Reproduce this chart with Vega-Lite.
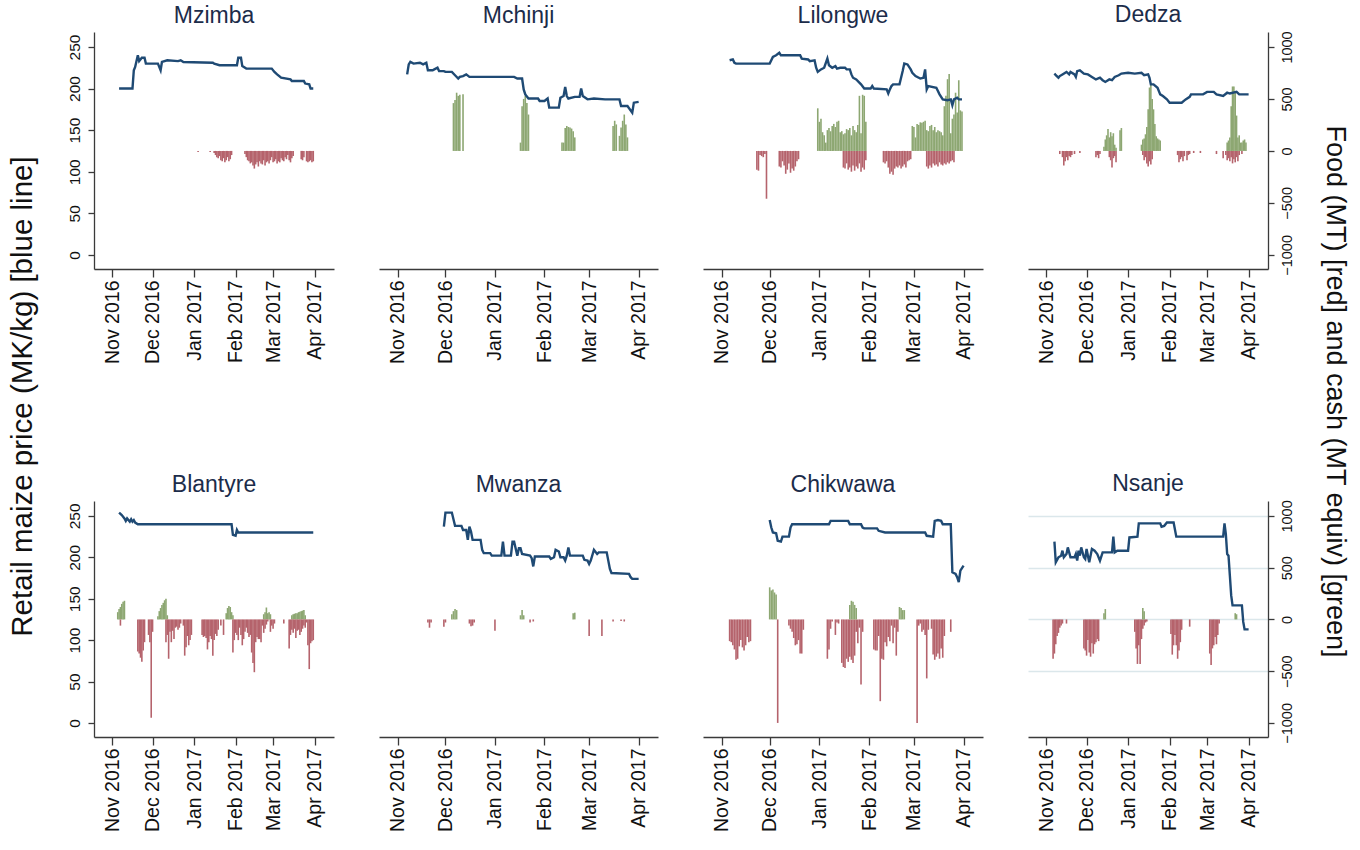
{
"$schema": "https://vega.github.io/schema/vega-lite/v6.json",
"padding": {"left": 6, "top": 3, "right": 5, "bottom": 5},
"bounds": "flush",
"align": "each",
"columns": 4,
"spacing": {"row": 232, "column": 45},
"config": {
  "view": {"stroke": null},
  "font": "Liberation Sans",
  "axis": {"domainColor": "#3a3a3a", "tickColor": "#3a3a3a", "domainWidth": 1.3, "tickWidth": 1.3, "labelColor": "#111111", "gridColor": "#dbe7eb", "gridWidth": 1.5, "titleColor": "#111111", "titleFontWeight": "normal"},
  "title": {"fontSize": 23, "fontWeight": "normal", "color": "#1c2c4a", "anchor": "middle", "baseline": "alphabetic", "frame": "group", "offset": 4},
  "line": {"color": "#1f4a74", "strokeWidth": 2.4},
  "bar": {"width": 1.6}
},
"datasets": {"m": [
{"d":"Mzimba","t":"2016-11-06","p":200},{"d":"Mzimba","t":"2016-11-16","p":200},{"d":"Mzimba","t":"2016-11-17","p":222},{"d":"Mzimba","t":"2016-11-18","p":226},{"d":"Mzimba","t":"2016-11-20","p":240},{"d":"Mzimba","t":"2016-11-21","p":233},{"d":"Mzimba","t":"2016-11-23","p":237},{"d":"Mzimba","t":"2016-11-25","p":237},{"d":"Mzimba","t":"2016-11-26","p":230},{"d":"Mzimba","t":"2016-12-05","p":230},{"d":"Mzimba","t":"2016-12-07","p":222},{"d":"Mzimba","t":"2016-12-08","p":232},{"d":"Mzimba","t":"2016-12-12","p":234},{"d":"Mzimba","t":"2016-12-20","p":233},{"d":"Mzimba","t":"2016-12-22","p":234},{"d":"Mzimba","t":"2016-12-24","p":232},{"d":"Mzimba","t":"2017-01-15","p":231},{"d":"Mzimba","t":"2017-01-16","p":230},{"d":"Mzimba","t":"2017-01-20","p":228},{"d":"Mzimba","t":"2017-02-02","p":228},{"d":"Mzimba","t":"2017-02-03","p":237},{"d":"Mzimba","t":"2017-02-05","p":237},{"d":"Mzimba","t":"2017-02-06","p":227},{"d":"Mzimba","t":"2017-02-09","p":224},{"d":"Mzimba","t":"2017-02-28","p":224},{"d":"Mzimba","t":"2017-03-02","p":220},{"d":"Mzimba","t":"2017-03-04","p":217},{"d":"Mzimba","t":"2017-03-07","p":213},{"d":"Mzimba","t":"2017-03-14","p":211},{"d":"Mzimba","t":"2017-03-15","p":209},{"d":"Mzimba","t":"2017-03-24","p":209},{"d":"Mzimba","t":"2017-03-25","p":206},{"d":"Mzimba","t":"2017-03-28","p":205},{"d":"Mzimba","t":"2017-03-29","p":200},{"d":"Mzimba","t":"2017-03-31","p":200},
{"d":"Mzimba","t":"2017-01-04","v":-10},{"d":"Mzimba","t":"2017-01-13","v":-10},{"d":"Mzimba","t":"2017-01-16","v":-20},{"d":"Mzimba","t":"2017-01-17","v":-40},{"d":"Mzimba","t":"2017-01-18","v":-60},{"d":"Mzimba","t":"2017-01-19","v":-70},{"d":"Mzimba","t":"2017-01-20","v":-50},{"d":"Mzimba","t":"2017-01-21","v":-90},{"d":"Mzimba","t":"2017-01-22","v":-100},{"d":"Mzimba","t":"2017-01-23","v":-70},{"d":"Mzimba","t":"2017-01-24","v":-110},{"d":"Mzimba","t":"2017-01-25","v":-90},{"d":"Mzimba","t":"2017-01-26","v":-60},{"d":"Mzimba","t":"2017-01-27","v":-100},{"d":"Mzimba","t":"2017-01-28","v":-80},{"d":"Mzimba","t":"2017-01-29","v":-40},{"d":"Mzimba","t":"2017-02-08","v":-30},{"d":"Mzimba","t":"2017-02-09","v":-60},{"d":"Mzimba","t":"2017-02-10","v":-90},{"d":"Mzimba","t":"2017-02-11","v":-100},{"d":"Mzimba","t":"2017-02-12","v":-120},{"d":"Mzimba","t":"2017-02-13","v":-110},{"d":"Mzimba","t":"2017-02-14","v":-140},{"d":"Mzimba","t":"2017-02-15","v":-170},{"d":"Mzimba","t":"2017-02-16","v":-130},{"d":"Mzimba","t":"2017-02-17","v":-110},{"d":"Mzimba","t":"2017-02-18","v":-150},{"d":"Mzimba","t":"2017-02-19","v":-100},{"d":"Mzimba","t":"2017-02-20","v":-120},{"d":"Mzimba","t":"2017-02-21","v":-130},{"d":"Mzimba","t":"2017-02-22","v":-90},{"d":"Mzimba","t":"2017-02-23","v":-140},{"d":"Mzimba","t":"2017-02-24","v":-110},{"d":"Mzimba","t":"2017-02-25","v":-100},{"d":"Mzimba","t":"2017-02-26","v":-120},{"d":"Mzimba","t":"2017-02-27","v":-90},{"d":"Mzimba","t":"2017-02-28","v":-60},{"d":"Mzimba","t":"2017-03-01","v":-110},{"d":"Mzimba","t":"2017-03-02","v":-100},{"d":"Mzimba","t":"2017-03-03","v":-80},{"d":"Mzimba","t":"2017-03-04","v":-120},{"d":"Mzimba","t":"2017-03-05","v":-100},{"d":"Mzimba","t":"2017-03-06","v":-110},{"d":"Mzimba","t":"2017-03-07","v":-70},{"d":"Mzimba","t":"2017-03-08","v":-90},{"d":"Mzimba","t":"2017-03-09","v":-100},{"d":"Mzimba","t":"2017-03-10","v":-60},{"d":"Mzimba","t":"2017-03-11","v":-80},{"d":"Mzimba","t":"2017-03-12","v":-40},{"d":"Mzimba","t":"2017-03-13","v":-90},{"d":"Mzimba","t":"2017-03-14","v":-110},{"d":"Mzimba","t":"2017-03-15","v":-70},{"d":"Mzimba","t":"2017-03-16","v":-50},{"d":"Mzimba","t":"2017-03-22","v":-80},{"d":"Mzimba","t":"2017-03-23","v":-90},{"d":"Mzimba","t":"2017-03-24","v":-60},{"d":"Mzimba","t":"2017-03-26","v":-100},{"d":"Mzimba","t":"2017-03-27","v":-110},{"d":"Mzimba","t":"2017-03-28","v":-100},{"d":"Mzimba","t":"2017-03-29","v":-90},{"d":"Mzimba","t":"2017-03-30","v":-110},{"d":"Mzimba","t":"2017-03-31","v":-100},
{"d":"Mchinji","t":"2016-11-07","p":217},{"d":"Mchinji","t":"2016-11-08","p":229},{"d":"Mchinji","t":"2016-11-09","p":232},{"d":"Mchinji","t":"2016-11-11","p":230},{"d":"Mchinji","t":"2016-11-15","p":231},{"d":"Mchinji","t":"2016-11-17","p":229},{"d":"Mchinji","t":"2016-11-19","p":231},{"d":"Mchinji","t":"2016-11-20","p":222},{"d":"Mchinji","t":"2016-11-23","p":222},{"d":"Mchinji","t":"2016-11-24","p":223},{"d":"Mchinji","t":"2016-11-26","p":225},{"d":"Mchinji","t":"2016-11-27","p":221},{"d":"Mchinji","t":"2016-11-30","p":221},{"d":"Mchinji","t":"2016-12-01","p":220},{"d":"Mchinji","t":"2016-12-05","p":220},{"d":"Mchinji","t":"2016-12-07","p":216},{"d":"Mchinji","t":"2016-12-09","p":212},{"d":"Mchinji","t":"2016-12-10","p":214},{"d":"Mchinji","t":"2016-12-12","p":215},{"d":"Mchinji","t":"2016-12-14","p":217},{"d":"Mchinji","t":"2016-12-16","p":214},{"d":"Mchinji","t":"2017-01-13","p":214},{"d":"Mchinji","t":"2017-01-15","p":212},{"d":"Mchinji","t":"2017-01-18","p":212},{"d":"Mchinji","t":"2017-01-19","p":199},{"d":"Mchinji","t":"2017-01-20","p":193},{"d":"Mchinji","t":"2017-01-22","p":188},{"d":"Mchinji","t":"2017-01-28","p":188},{"d":"Mchinji","t":"2017-01-29","p":185},{"d":"Mchinji","t":"2017-02-01","p":185},{"d":"Mchinji","t":"2017-02-03","p":188},{"d":"Mchinji","t":"2017-02-04","p":177},{"d":"Mchinji","t":"2017-02-10","p":177},{"d":"Mchinji","t":"2017-02-11","p":189},{"d":"Mchinji","t":"2017-02-13","p":191},{"d":"Mchinji","t":"2017-02-14","p":202},{"d":"Mchinji","t":"2017-02-15","p":191},{"d":"Mchinji","t":"2017-02-16","p":188},{"d":"Mchinji","t":"2017-02-20","p":190},{"d":"Mchinji","t":"2017-02-23","p":190},{"d":"Mchinji","t":"2017-02-24","p":200},{"d":"Mchinji","t":"2017-02-25","p":191},{"d":"Mchinji","t":"2017-02-28","p":187},{"d":"Mchinji","t":"2017-03-04","p":188},{"d":"Mchinji","t":"2017-03-11","p":187},{"d":"Mchinji","t":"2017-03-20","p":187},{"d":"Mchinji","t":"2017-03-21","p":179},{"d":"Mchinji","t":"2017-03-25","p":179},{"d":"Mchinji","t":"2017-03-28","p":171},{"d":"Mchinji","t":"2017-03-29","p":183},{"d":"Mchinji","t":"2017-04-01","p":184},
{"d":"Mchinji","t":"2016-12-06","v":460},{"d":"Mchinji","t":"2016-12-07","v":490},{"d":"Mchinji","t":"2016-12-08","v":560},{"d":"Mchinji","t":"2016-12-09","v":530},{"d":"Mchinji","t":"2016-12-10","v":540},{"d":"Mchinji","t":"2016-12-12","v":545},{"d":"Mchinji","t":"2017-01-17","v":80},{"d":"Mchinji","t":"2017-01-18","v":430},{"d":"Mchinji","t":"2017-01-19","v":500},{"d":"Mchinji","t":"2017-01-20","v":530},{"d":"Mchinji","t":"2017-01-21","v":460},{"d":"Mchinji","t":"2017-01-22","v":350},{"d":"Mchinji","t":"2017-02-12","v":80},{"d":"Mchinji","t":"2017-02-13","v":80},{"d":"Mchinji","t":"2017-02-14","v":220},{"d":"Mchinji","t":"2017-02-15","v":240},{"d":"Mchinji","t":"2017-02-16","v":230},{"d":"Mchinji","t":"2017-02-17","v":225},{"d":"Mchinji","t":"2017-02-18","v":215},{"d":"Mchinji","t":"2017-02-19","v":190},{"d":"Mchinji","t":"2017-02-20","v":130},{"d":"Mchinji","t":"2017-03-16","v":240},{"d":"Mchinji","t":"2017-03-17","v":290},{"d":"Mchinji","t":"2017-03-18","v":255},{"d":"Mchinji","t":"2017-03-20","v":145},{"d":"Mchinji","t":"2017-03-21","v":225},{"d":"Mchinji","t":"2017-03-22","v":290},{"d":"Mchinji","t":"2017-03-23","v":350},{"d":"Mchinji","t":"2017-03-24","v":255},{"d":"Mchinji","t":"2017-03-25","v":130},
{"d":"Lilongwe","t":"2016-11-06","p":234},{"d":"Lilongwe","t":"2016-11-08","p":235},{"d":"Lilongwe","t":"2016-11-09","p":231},{"d":"Lilongwe","t":"2016-11-10","p":230},{"d":"Lilongwe","t":"2016-12-01","p":230},{"d":"Lilongwe","t":"2016-12-03","p":238},{"d":"Lilongwe","t":"2016-12-05","p":240},{"d":"Lilongwe","t":"2016-12-07","p":243},{"d":"Lilongwe","t":"2016-12-08","p":240},{"d":"Lilongwe","t":"2016-12-20","p":240},{"d":"Lilongwe","t":"2016-12-21","p":236},{"d":"Lilongwe","t":"2016-12-25","p":235},{"d":"Lilongwe","t":"2016-12-26","p":233},{"d":"Lilongwe","t":"2016-12-29","p":234},{"d":"Lilongwe","t":"2016-12-30","p":225},{"d":"Lilongwe","t":"2016-12-31","p":220},{"d":"Lilongwe","t":"2017-01-02","p":223},{"d":"Lilongwe","t":"2017-01-04","p":225},{"d":"Lilongwe","t":"2017-01-06","p":236},{"d":"Lilongwe","t":"2017-01-07","p":228},{"d":"Lilongwe","t":"2017-01-09","p":225},{"d":"Lilongwe","t":"2017-01-11","p":227},{"d":"Lilongwe","t":"2017-01-12","p":224},{"d":"Lilongwe","t":"2017-01-14","p":225},{"d":"Lilongwe","t":"2017-01-17","p":225},{"d":"Lilongwe","t":"2017-01-18","p":223},{"d":"Lilongwe","t":"2017-01-20","p":223},{"d":"Lilongwe","t":"2017-01-21","p":217},{"d":"Lilongwe","t":"2017-01-22","p":213},{"d":"Lilongwe","t":"2017-01-24","p":211},{"d":"Lilongwe","t":"2017-01-27","p":205},{"d":"Lilongwe","t":"2017-01-29","p":200},{"d":"Lilongwe","t":"2017-02-02","p":200},{"d":"Lilongwe","t":"2017-02-03","p":203},{"d":"Lilongwe","t":"2017-02-04","p":200},{"d":"Lilongwe","t":"2017-02-12","p":199},{"d":"Lilongwe","t":"2017-02-13","p":194},{"d":"Lilongwe","t":"2017-02-14","p":199},{"d":"Lilongwe","t":"2017-02-15","p":203},{"d":"Lilongwe","t":"2017-02-16","p":205},{"d":"Lilongwe","t":"2017-02-20","p":205},{"d":"Lilongwe","t":"2017-02-22","p":221},{"d":"Lilongwe","t":"2017-02-23","p":230},{"d":"Lilongwe","t":"2017-02-25","p":229},{"d":"Lilongwe","t":"2017-02-27","p":223},{"d":"Lilongwe","t":"2017-02-28","p":219},{"d":"Lilongwe","t":"2017-03-02","p":215},{"d":"Lilongwe","t":"2017-03-05","p":212},{"d":"Lilongwe","t":"2017-03-07","p":213},{"d":"Lilongwe","t":"2017-03-08","p":223},{"d":"Lilongwe","t":"2017-03-09","p":199},{"d":"Lilongwe","t":"2017-03-10","p":203},{"d":"Lilongwe","t":"2017-03-15","p":201},{"d":"Lilongwe","t":"2017-03-17","p":193},{"d":"Lilongwe","t":"2017-03-19","p":187},{"d":"Lilongwe","t":"2017-03-22","p":186},{"d":"Lilongwe","t":"2017-03-24","p":187},{"d":"Lilongwe","t":"2017-03-25","p":180},{"d":"Lilongwe","t":"2017-03-26","p":187},{"d":"Lilongwe","t":"2017-03-28","p":189},{"d":"Lilongwe","t":"2017-03-29","p":187},{"d":"Lilongwe","t":"2017-03-31","p":187},
{"d":"Lilongwe","t":"2016-11-23","v":-180},{"d":"Lilongwe","t":"2016-11-24","v":-190},{"d":"Lilongwe","t":"2016-11-25","v":-40},{"d":"Lilongwe","t":"2016-11-26","v":-50},{"d":"Lilongwe","t":"2016-11-27","v":-60},{"d":"Lilongwe","t":"2016-11-28","v":-30},{"d":"Lilongwe","t":"2016-11-29","v":-460},{"d":"Lilongwe","t":"2016-12-07","v":-150},{"d":"Lilongwe","t":"2016-12-08","v":-160},{"d":"Lilongwe","t":"2016-12-09","v":-100},{"d":"Lilongwe","t":"2016-12-10","v":-140},{"d":"Lilongwe","t":"2016-12-11","v":-220},{"d":"Lilongwe","t":"2016-12-12","v":-180},{"d":"Lilongwe","t":"2016-12-13","v":-120},{"d":"Lilongwe","t":"2016-12-14","v":-210},{"d":"Lilongwe","t":"2016-12-15","v":-170},{"d":"Lilongwe","t":"2016-12-16","v":-190},{"d":"Lilongwe","t":"2016-12-17","v":-150},{"d":"Lilongwe","t":"2016-12-18","v":-100},{"d":"Lilongwe","t":"2016-12-19","v":-80},{"d":"Lilongwe","t":"2017-01-16","v":-160},{"d":"Lilongwe","t":"2017-01-17","v":-170},{"d":"Lilongwe","t":"2017-01-18","v":-120},{"d":"Lilongwe","t":"2017-01-19","v":-180},{"d":"Lilongwe","t":"2017-01-20","v":-160},{"d":"Lilongwe","t":"2017-01-21","v":-200},{"d":"Lilongwe","t":"2017-01-22","v":-140},{"d":"Lilongwe","t":"2017-01-23","v":-190},{"d":"Lilongwe","t":"2017-01-24","v":-150},{"d":"Lilongwe","t":"2017-01-25","v":-170},{"d":"Lilongwe","t":"2017-01-26","v":-120},{"d":"Lilongwe","t":"2017-01-27","v":-200},{"d":"Lilongwe","t":"2017-01-28","v":-160},{"d":"Lilongwe","t":"2017-01-29","v":-180},{"d":"Lilongwe","t":"2017-01-30","v":-90},{"d":"Lilongwe","t":"2017-02-10","v":-110},{"d":"Lilongwe","t":"2017-02-11","v":-120},{"d":"Lilongwe","t":"2017-02-12","v":-100},{"d":"Lilongwe","t":"2017-02-13","v":-160},{"d":"Lilongwe","t":"2017-02-14","v":-220},{"d":"Lilongwe","t":"2017-02-15","v":-200},{"d":"Lilongwe","t":"2017-02-16","v":-230},{"d":"Lilongwe","t":"2017-02-17","v":-170},{"d":"Lilongwe","t":"2017-02-18","v":-150},{"d":"Lilongwe","t":"2017-02-19","v":-160},{"d":"Lilongwe","t":"2017-02-20","v":-140},{"d":"Lilongwe","t":"2017-02-21","v":-170},{"d":"Lilongwe","t":"2017-02-22","v":-150},{"d":"Lilongwe","t":"2017-02-23","v":-130},{"d":"Lilongwe","t":"2017-02-24","v":-160},{"d":"Lilongwe","t":"2017-02-25","v":-100},{"d":"Lilongwe","t":"2017-02-26","v":-90},{"d":"Lilongwe","t":"2017-02-27","v":-80},{"d":"Lilongwe","t":"2017-03-09","v":-150},{"d":"Lilongwe","t":"2017-03-10","v":-170},{"d":"Lilongwe","t":"2017-03-11","v":-140},{"d":"Lilongwe","t":"2017-03-12","v":-160},{"d":"Lilongwe","t":"2017-03-13","v":-120},{"d":"Lilongwe","t":"2017-03-14","v":-140},{"d":"Lilongwe","t":"2017-03-15","v":-130},{"d":"Lilongwe","t":"2017-03-16","v":-150},{"d":"Lilongwe","t":"2017-03-17","v":-110},{"d":"Lilongwe","t":"2017-03-18","v":-130},{"d":"Lilongwe","t":"2017-03-19","v":-140},{"d":"Lilongwe","t":"2017-03-20","v":-120},{"d":"Lilongwe","t":"2017-03-21","v":-130},{"d":"Lilongwe","t":"2017-03-22","v":-110},{"d":"Lilongwe","t":"2017-03-23","v":-120},{"d":"Lilongwe","t":"2017-03-24","v":-100},{"d":"Lilongwe","t":"2017-03-25","v":-90},{"d":"Lilongwe","t":"2017-03-26","v":-110},
{"d":"Lilongwe","t":"2016-12-31","v":410},{"d":"Lilongwe","t":"2017-01-01","v":280},{"d":"Lilongwe","t":"2017-01-02","v":310},{"d":"Lilongwe","t":"2017-01-03","v":180},{"d":"Lilongwe","t":"2017-01-04","v":150},{"d":"Lilongwe","t":"2017-01-05","v":80},{"d":"Lilongwe","t":"2017-01-06","v":200},{"d":"Lilongwe","t":"2017-01-07","v":220},{"d":"Lilongwe","t":"2017-01-08","v":190},{"d":"Lilongwe","t":"2017-01-09","v":240},{"d":"Lilongwe","t":"2017-01-10","v":260},{"d":"Lilongwe","t":"2017-01-11","v":230},{"d":"Lilongwe","t":"2017-01-12","v":280},{"d":"Lilongwe","t":"2017-01-13","v":290},{"d":"Lilongwe","t":"2017-01-14","v":180},{"d":"Lilongwe","t":"2017-01-15","v":190},{"d":"Lilongwe","t":"2017-01-16","v":160},{"d":"Lilongwe","t":"2017-01-17","v":170},{"d":"Lilongwe","t":"2017-01-18","v":210},{"d":"Lilongwe","t":"2017-01-19","v":200},{"d":"Lilongwe","t":"2017-01-20","v":220},{"d":"Lilongwe","t":"2017-01-21","v":150},{"d":"Lilongwe","t":"2017-01-22","v":240},{"d":"Lilongwe","t":"2017-01-23","v":200},{"d":"Lilongwe","t":"2017-01-24","v":180},{"d":"Lilongwe","t":"2017-01-25","v":250},{"d":"Lilongwe","t":"2017-01-26","v":530},{"d":"Lilongwe","t":"2017-01-27","v":170},{"d":"Lilongwe","t":"2017-01-28","v":540},{"d":"Lilongwe","t":"2017-01-29","v":530},{"d":"Lilongwe","t":"2017-01-30","v":280},{"d":"Lilongwe","t":"2017-02-28","v":240},{"d":"Lilongwe","t":"2017-03-01","v":230},{"d":"Lilongwe","t":"2017-03-02","v":130},{"d":"Lilongwe","t":"2017-03-03","v":260},{"d":"Lilongwe","t":"2017-03-04","v":250},{"d":"Lilongwe","t":"2017-03-05","v":275},{"d":"Lilongwe","t":"2017-03-06","v":270},{"d":"Lilongwe","t":"2017-03-07","v":280},{"d":"Lilongwe","t":"2017-03-08","v":290},{"d":"Lilongwe","t":"2017-03-09","v":200},{"d":"Lilongwe","t":"2017-03-10","v":190},{"d":"Lilongwe","t":"2017-03-11","v":240},{"d":"Lilongwe","t":"2017-03-12","v":250},{"d":"Lilongwe","t":"2017-03-13","v":200},{"d":"Lilongwe","t":"2017-03-14","v":230},{"d":"Lilongwe","t":"2017-03-15","v":180},{"d":"Lilongwe","t":"2017-03-16","v":200},{"d":"Lilongwe","t":"2017-03-17","v":190},{"d":"Lilongwe","t":"2017-03-18","v":180},{"d":"Lilongwe","t":"2017-03-19","v":150},{"d":"Lilongwe","t":"2017-03-20","v":430},{"d":"Lilongwe","t":"2017-03-21","v":530},{"d":"Lilongwe","t":"2017-03-22","v":690},{"d":"Lilongwe","t":"2017-03-23","v":740},{"d":"Lilongwe","t":"2017-03-24","v":170},{"d":"Lilongwe","t":"2017-03-25","v":310},{"d":"Lilongwe","t":"2017-03-26","v":350},{"d":"Lilongwe","t":"2017-03-27","v":560},{"d":"Lilongwe","t":"2017-03-28","v":370},{"d":"Lilongwe","t":"2017-03-29","v":680},{"d":"Lilongwe","t":"2017-03-30","v":390},{"d":"Lilongwe","t":"2017-03-31","v":380},
{"d":"Dedza","t":"2016-11-07","p":218},{"d":"Dedza","t":"2016-11-08","p":216},{"d":"Dedza","t":"2016-11-10","p":213},{"d":"Dedza","t":"2016-11-11","p":215},{"d":"Dedza","t":"2016-11-13","p":217},{"d":"Dedza","t":"2016-11-16","p":220},{"d":"Dedza","t":"2016-11-18","p":217},{"d":"Dedza","t":"2016-11-19","p":220},{"d":"Dedza","t":"2016-11-22","p":217},{"d":"Dedza","t":"2016-11-23","p":214},{"d":"Dedza","t":"2016-11-24","p":221},{"d":"Dedza","t":"2016-11-26","p":222},{"d":"Dedza","t":"2016-11-29","p":218},{"d":"Dedza","t":"2016-12-02","p":217},{"d":"Dedza","t":"2016-12-05","p":214},{"d":"Dedza","t":"2016-12-08","p":211},{"d":"Dedza","t":"2016-12-11","p":213},{"d":"Dedza","t":"2016-12-13","p":210},{"d":"Dedza","t":"2016-12-15","p":208},{"d":"Dedza","t":"2016-12-18","p":211},{"d":"Dedza","t":"2016-12-20","p":210},{"d":"Dedza","t":"2016-12-22","p":214},{"d":"Dedza","t":"2016-12-25","p":216},{"d":"Dedza","t":"2016-12-27","p":218},{"d":"Dedza","t":"2017-01-01","p":219},{"d":"Dedza","t":"2017-01-06","p":218},{"d":"Dedza","t":"2017-01-11","p":219},{"d":"Dedza","t":"2017-01-13","p":216},{"d":"Dedza","t":"2017-01-16","p":217},{"d":"Dedza","t":"2017-01-17","p":213},{"d":"Dedza","t":"2017-01-18","p":205},{"d":"Dedza","t":"2017-01-20","p":205},{"d":"Dedza","t":"2017-01-23","p":201},{"d":"Dedza","t":"2017-01-25","p":193},{"d":"Dedza","t":"2017-01-27","p":191},{"d":"Dedza","t":"2017-01-30","p":187},{"d":"Dedza","t":"2017-02-01","p":183},{"d":"Dedza","t":"2017-02-10","p":183},{"d":"Dedza","t":"2017-02-13","p":187},{"d":"Dedza","t":"2017-02-16","p":190},{"d":"Dedza","t":"2017-02-17","p":193},{"d":"Dedza","t":"2017-02-26","p":193},{"d":"Dedza","t":"2017-03-01","p":196},{"d":"Dedza","t":"2017-03-06","p":196},{"d":"Dedza","t":"2017-03-08","p":193},{"d":"Dedza","t":"2017-03-13","p":191},{"d":"Dedza","t":"2017-03-16","p":195},{"d":"Dedza","t":"2017-03-18","p":194},{"d":"Dedza","t":"2017-03-23","p":196},{"d":"Dedza","t":"2017-03-25","p":193},{"d":"Dedza","t":"2017-04-01","p":193},
{"d":"Dedza","t":"2016-11-11","v":-30},{"d":"Dedza","t":"2016-11-13","v":-60},{"d":"Dedza","t":"2016-11-14","v":-140},{"d":"Dedza","t":"2016-11-15","v":-100},{"d":"Dedza","t":"2016-11-16","v":-60},{"d":"Dedza","t":"2016-11-17","v":-90},{"d":"Dedza","t":"2016-11-18","v":-50},{"d":"Dedza","t":"2016-11-19","v":-60},{"d":"Dedza","t":"2016-11-20","v":-40},{"d":"Dedza","t":"2016-11-22","v":-30},{"d":"Dedza","t":"2016-11-26","v":-20},{"d":"Dedza","t":"2016-12-08","v":-60},{"d":"Dedza","t":"2016-12-09","v":-40},{"d":"Dedza","t":"2016-12-10","v":-70},{"d":"Dedza","t":"2016-12-11","v":-30},{"d":"Dedza","t":"2016-12-18","v":-60},{"d":"Dedza","t":"2016-12-19","v":-90},{"d":"Dedza","t":"2016-12-20","v":-160},{"d":"Dedza","t":"2016-12-21","v":-70},{"d":"Dedza","t":"2016-12-22","v":-50},{"d":"Dedza","t":"2016-12-23","v":-110},{"d":"Dedza","t":"2017-01-12","v":-40},{"d":"Dedza","t":"2017-01-13","v":-90},{"d":"Dedza","t":"2017-01-14","v":-60},{"d":"Dedza","t":"2017-01-15","v":-120},{"d":"Dedza","t":"2017-01-16","v":-150},{"d":"Dedza","t":"2017-01-17","v":-100},{"d":"Dedza","t":"2017-01-18","v":-130},{"d":"Dedza","t":"2017-01-19","v":-80},{"d":"Dedza","t":"2017-02-07","v":-40},{"d":"Dedza","t":"2017-02-08","v":-110},{"d":"Dedza","t":"2017-02-09","v":-80},{"d":"Dedza","t":"2017-02-10","v":-60},{"d":"Dedza","t":"2017-02-11","v":-100},{"d":"Dedza","t":"2017-02-12","v":-50},{"d":"Dedza","t":"2017-02-14","v":-90},{"d":"Dedza","t":"2017-02-15","v":-40},{"d":"Dedza","t":"2017-02-16","v":-30},{"d":"Dedza","t":"2017-02-19","v":-20},{"d":"Dedza","t":"2017-02-24","v":-20},{"d":"Dedza","t":"2017-03-08","v":-30},{"d":"Dedza","t":"2017-03-13","v":-70},{"d":"Dedza","t":"2017-03-15","v":-40},{"d":"Dedza","t":"2017-03-16","v":-90},{"d":"Dedza","t":"2017-03-17","v":-70},{"d":"Dedza","t":"2017-03-18","v":-100},{"d":"Dedza","t":"2017-03-19","v":-60},{"d":"Dedza","t":"2017-03-20","v":-120},{"d":"Dedza","t":"2017-03-21","v":-80},{"d":"Dedza","t":"2017-03-22","v":-110},{"d":"Dedza","t":"2017-03-23","v":-60},{"d":"Dedza","t":"2017-03-24","v":-100},{"d":"Dedza","t":"2017-03-25","v":-40},{"d":"Dedza","t":"2017-03-27","v":-30},
{"d":"Dedza","t":"2016-12-14","v":40},{"d":"Dedza","t":"2016-12-15","v":110},{"d":"Dedza","t":"2016-12-16","v":150},{"d":"Dedza","t":"2016-12-17","v":210},{"d":"Dedza","t":"2016-12-18","v":130},{"d":"Dedza","t":"2016-12-19","v":180},{"d":"Dedza","t":"2016-12-20","v":140},{"d":"Dedza","t":"2016-12-21","v":170},{"d":"Dedza","t":"2016-12-22","v":60},{"d":"Dedza","t":"2016-12-23","v":30},{"d":"Dedza","t":"2016-12-26","v":200},{"d":"Dedza","t":"2016-12-27","v":220},{"d":"Dedza","t":"2017-01-11","v":60},{"d":"Dedza","t":"2017-01-12","v":110},{"d":"Dedza","t":"2017-01-13","v":120},{"d":"Dedza","t":"2017-01-14","v":160},{"d":"Dedza","t":"2017-01-15","v":230},{"d":"Dedza","t":"2017-01-16","v":400},{"d":"Dedza","t":"2017-01-17","v":610},{"d":"Dedza","t":"2017-01-18","v":640},{"d":"Dedza","t":"2017-01-19","v":500},{"d":"Dedza","t":"2017-01-20","v":400},{"d":"Dedza","t":"2017-01-21","v":260},{"d":"Dedza","t":"2017-01-22","v":140},{"d":"Dedza","t":"2017-01-23","v":120},{"d":"Dedza","t":"2017-01-24","v":110},{"d":"Dedza","t":"2017-01-25","v":100},{"d":"Dedza","t":"2017-03-16","v":80},{"d":"Dedza","t":"2017-03-17","v":100},{"d":"Dedza","t":"2017-03-18","v":130},{"d":"Dedza","t":"2017-03-19","v":430},{"d":"Dedza","t":"2017-03-20","v":620},{"d":"Dedza","t":"2017-03-21","v":620},{"d":"Dedza","t":"2017-03-22","v":560},{"d":"Dedza","t":"2017-03-23","v":340},{"d":"Dedza","t":"2017-03-24","v":130},{"d":"Dedza","t":"2017-03-25","v":150},{"d":"Dedza","t":"2017-03-26","v":80},{"d":"Dedza","t":"2017-03-27","v":80},{"d":"Dedza","t":"2017-03-28","v":100},{"d":"Dedza","t":"2017-03-29","v":110},{"d":"Dedza","t":"2017-03-30","v":80},
{"d":"Blantyre","t":"2016-11-06","p":254},{"d":"Blantyre","t":"2016-11-08","p":251},{"d":"Blantyre","t":"2016-11-09","p":249},{"d":"Blantyre","t":"2016-11-10","p":247},{"d":"Blantyre","t":"2016-11-11","p":244},{"d":"Blantyre","t":"2016-11-12","p":247},{"d":"Blantyre","t":"2016-11-14","p":243},{"d":"Blantyre","t":"2016-11-15","p":246},{"d":"Blantyre","t":"2016-11-16","p":243},{"d":"Blantyre","t":"2016-11-17","p":245},{"d":"Blantyre","t":"2016-11-18","p":242},{"d":"Blantyre","t":"2016-11-20","p":240},{"d":"Blantyre","t":"2017-01-29","p":240},{"d":"Blantyre","t":"2017-01-30","p":227},{"d":"Blantyre","t":"2017-02-01","p":226},{"d":"Blantyre","t":"2017-02-02","p":233},{"d":"Blantyre","t":"2017-02-03","p":230},{"d":"Blantyre","t":"2017-03-31","p":230},
{"d":"Blantyre","t":"2016-11-05","v":70},{"d":"Blantyre","t":"2016-11-06","v":100},{"d":"Blantyre","t":"2016-11-07","v":120},{"d":"Blantyre","t":"2016-11-08","v":150},{"d":"Blantyre","t":"2016-11-09","v":170},{"d":"Blantyre","t":"2016-11-10","v":180},{"d":"Blantyre","t":"2016-12-05","v":30},{"d":"Blantyre","t":"2016-12-06","v":80},{"d":"Blantyre","t":"2016-12-07","v":110},{"d":"Blantyre","t":"2016-12-08","v":140},{"d":"Blantyre","t":"2016-12-09","v":160},{"d":"Blantyre","t":"2016-12-10","v":185},{"d":"Blantyre","t":"2016-12-11","v":200},{"d":"Blantyre","t":"2016-12-12","v":40},{"d":"Blantyre","t":"2017-01-25","v":60},{"d":"Blantyre","t":"2017-01-26","v":110},{"d":"Blantyre","t":"2017-01-27","v":130},{"d":"Blantyre","t":"2017-01-28","v":120},{"d":"Blantyre","t":"2017-01-29","v":70},{"d":"Blantyre","t":"2017-01-30","v":40},{"d":"Blantyre","t":"2017-02-22","v":50},{"d":"Blantyre","t":"2017-02-23","v":70},{"d":"Blantyre","t":"2017-02-24","v":115},{"d":"Blantyre","t":"2017-02-25","v":60},{"d":"Blantyre","t":"2017-02-26","v":70},{"d":"Blantyre","t":"2017-02-27","v":50},{"d":"Blantyre","t":"2017-03-15","v":40},{"d":"Blantyre","t":"2017-03-16","v":50},{"d":"Blantyre","t":"2017-03-17","v":55},{"d":"Blantyre","t":"2017-03-18","v":60},{"d":"Blantyre","t":"2017-03-19","v":60},{"d":"Blantyre","t":"2017-03-20","v":70},{"d":"Blantyre","t":"2017-03-21","v":75},{"d":"Blantyre","t":"2017-03-22","v":80},{"d":"Blantyre","t":"2017-03-23","v":85},{"d":"Blantyre","t":"2017-03-24","v":90},{"d":"Blantyre","t":"2017-03-25","v":40},
{"d":"Blantyre","t":"2016-11-07","v":-60},{"d":"Blantyre","t":"2016-11-20","v":-310},{"d":"Blantyre","t":"2016-11-21","v":-330},{"d":"Blantyre","t":"2016-11-22","v":-370},{"d":"Blantyre","t":"2016-11-23","v":-410},{"d":"Blantyre","t":"2016-11-24","v":-300},{"d":"Blantyre","t":"2016-11-25","v":-220},{"d":"Blantyre","t":"2016-11-28","v":-150},{"d":"Blantyre","t":"2016-11-29","v":-220},{"d":"Blantyre","t":"2016-11-30","v":-950},{"d":"Blantyre","t":"2016-12-01","v":-120},{"d":"Blantyre","t":"2016-12-11","v":-220},{"d":"Blantyre","t":"2016-12-12","v":-150},{"d":"Blantyre","t":"2016-12-13","v":-380},{"d":"Blantyre","t":"2016-12-14","v":-120},{"d":"Blantyre","t":"2016-12-15","v":-220},{"d":"Blantyre","t":"2016-12-16","v":-110},{"d":"Blantyre","t":"2016-12-17","v":-190},{"d":"Blantyre","t":"2016-12-18","v":-80},{"d":"Blantyre","t":"2016-12-19","v":-70},{"d":"Blantyre","t":"2016-12-20","v":-100},{"d":"Blantyre","t":"2016-12-21","v":-80},{"d":"Blantyre","t":"2016-12-22","v":-40},{"d":"Blantyre","t":"2016-12-24","v":-60},{"d":"Blantyre","t":"2016-12-25","v":-350},{"d":"Blantyre","t":"2016-12-26","v":-270},{"d":"Blantyre","t":"2016-12-27","v":-160},{"d":"Blantyre","t":"2016-12-28","v":-250},{"d":"Blantyre","t":"2016-12-29","v":-200},{"d":"Blantyre","t":"2016-12-30","v":-150},{"d":"Blantyre","t":"2017-01-07","v":-150},{"d":"Blantyre","t":"2017-01-08","v":-170},{"d":"Blantyre","t":"2017-01-09","v":-160},{"d":"Blantyre","t":"2017-01-10","v":-180},{"d":"Blantyre","t":"2017-01-11","v":-290},{"d":"Blantyre","t":"2017-01-12","v":-220},{"d":"Blantyre","t":"2017-01-13","v":-160},{"d":"Blantyre","t":"2017-01-14","v":-190},{"d":"Blantyre","t":"2017-01-15","v":-350},{"d":"Blantyre","t":"2017-01-16","v":-200},{"d":"Blantyre","t":"2017-01-17","v":-140},{"d":"Blantyre","t":"2017-01-18","v":-160},{"d":"Blantyre","t":"2017-01-19","v":-100},{"d":"Blantyre","t":"2017-01-21","v":-60},{"d":"Blantyre","t":"2017-01-23","v":-150},{"d":"Blantyre","t":"2017-01-30","v":-320},{"d":"Blantyre","t":"2017-01-31","v":-200},{"d":"Blantyre","t":"2017-02-01","v":-130},{"d":"Blantyre","t":"2017-02-02","v":-150},{"d":"Blantyre","t":"2017-02-03","v":-200},{"d":"Blantyre","t":"2017-02-04","v":-80},{"d":"Blantyre","t":"2017-02-05","v":-150},{"d":"Blantyre","t":"2017-02-06","v":-250},{"d":"Blantyre","t":"2017-02-07","v":-190},{"d":"Blantyre","t":"2017-02-08","v":-120},{"d":"Blantyre","t":"2017-02-09","v":-80},{"d":"Blantyre","t":"2017-02-10","v":-130},{"d":"Blantyre","t":"2017-02-11","v":-170},{"d":"Blantyre","t":"2017-02-12","v":-150},{"d":"Blantyre","t":"2017-02-13","v":-320},{"d":"Blantyre","t":"2017-02-14","v":-420},{"d":"Blantyre","t":"2017-02-15","v":-510},{"d":"Blantyre","t":"2017-02-16","v":-220},{"d":"Blantyre","t":"2017-02-17","v":-170},{"d":"Blantyre","t":"2017-02-18","v":-190},{"d":"Blantyre","t":"2017-02-19","v":-190},{"d":"Blantyre","t":"2017-02-20","v":-220},{"d":"Blantyre","t":"2017-02-21","v":-60},{"d":"Blantyre","t":"2017-02-22","v":-130},{"d":"Blantyre","t":"2017-02-23","v":-90},{"d":"Blantyre","t":"2017-02-24","v":-50},{"d":"Blantyre","t":"2017-02-25","v":-20},{"d":"Blantyre","t":"2017-02-27","v":-120},{"d":"Blantyre","t":"2017-02-28","v":-60},{"d":"Blantyre","t":"2017-03-01","v":-90},{"d":"Blantyre","t":"2017-03-02","v":-40},{"d":"Blantyre","t":"2017-03-09","v":-40},{"d":"Blantyre","t":"2017-03-13","v":-280},{"d":"Blantyre","t":"2017-03-14","v":-150},{"d":"Blantyre","t":"2017-03-15","v":-100},{"d":"Blantyre","t":"2017-03-16","v":-130},{"d":"Blantyre","t":"2017-03-17","v":-90},{"d":"Blantyre","t":"2017-03-18","v":-180},{"d":"Blantyre","t":"2017-03-19","v":-110},{"d":"Blantyre","t":"2017-03-20","v":-100},{"d":"Blantyre","t":"2017-03-21","v":-150},{"d":"Blantyre","t":"2017-03-22","v":-120},{"d":"Blantyre","t":"2017-03-23","v":-90},{"d":"Blantyre","t":"2017-03-24","v":-60},{"d":"Blantyre","t":"2017-03-25","v":-80},{"d":"Blantyre","t":"2017-03-26","v":-30},{"d":"Blantyre","t":"2017-03-27","v":-250},{"d":"Blantyre","t":"2017-03-28","v":-480},{"d":"Blantyre","t":"2017-03-29","v":-230},{"d":"Blantyre","t":"2017-03-30","v":-210},{"d":"Blantyre","t":"2017-03-31","v":-200},
{"d":"Mwanza","t":"2016-11-30","p":237},{"d":"Mwanza","t":"2016-12-01","p":254},{"d":"Mwanza","t":"2016-12-05","p":254},{"d":"Mwanza","t":"2016-12-07","p":238},{"d":"Mwanza","t":"2016-12-11","p":238},{"d":"Mwanza","t":"2016-12-12","p":233},{"d":"Mwanza","t":"2016-12-14","p":233},{"d":"Mwanza","t":"2016-12-15","p":221},{"d":"Mwanza","t":"2016-12-16","p":237},{"d":"Mwanza","t":"2016-12-17","p":231},{"d":"Mwanza","t":"2016-12-18","p":221},{"d":"Mwanza","t":"2016-12-23","p":221},{"d":"Mwanza","t":"2016-12-24","p":209},{"d":"Mwanza","t":"2016-12-25","p":205},{"d":"Mwanza","t":"2016-12-29","p":205},{"d":"Mwanza","t":"2016-12-30","p":202},{"d":"Mwanza","t":"2017-01-05","p":202},{"d":"Mwanza","t":"2017-01-06","p":219},{"d":"Mwanza","t":"2017-01-07","p":202},{"d":"Mwanza","t":"2017-01-11","p":202},{"d":"Mwanza","t":"2017-01-12","p":219},{"d":"Mwanza","t":"2017-01-13","p":219},{"d":"Mwanza","t":"2017-01-15","p":202},{"d":"Mwanza","t":"2017-01-16","p":211},{"d":"Mwanza","t":"2017-01-17","p":211},{"d":"Mwanza","t":"2017-01-18","p":204},{"d":"Mwanza","t":"2017-01-23","p":202},{"d":"Mwanza","t":"2017-01-24","p":199},{"d":"Mwanza","t":"2017-01-25","p":189},{"d":"Mwanza","t":"2017-01-26","p":201},{"d":"Mwanza","t":"2017-02-04","p":201},{"d":"Mwanza","t":"2017-02-05","p":198},{"d":"Mwanza","t":"2017-02-07","p":200},{"d":"Mwanza","t":"2017-02-08","p":209},{"d":"Mwanza","t":"2017-02-10","p":207},{"d":"Mwanza","t":"2017-02-11","p":200},{"d":"Mwanza","t":"2017-02-13","p":200},{"d":"Mwanza","t":"2017-02-14","p":196},{"d":"Mwanza","t":"2017-02-15","p":202},{"d":"Mwanza","t":"2017-02-16","p":212},{"d":"Mwanza","t":"2017-02-17","p":202},{"d":"Mwanza","t":"2017-02-25","p":202},{"d":"Mwanza","t":"2017-02-26","p":197},{"d":"Mwanza","t":"2017-02-28","p":196},{"d":"Mwanza","t":"2017-03-01","p":192},{"d":"Mwanza","t":"2017-03-02","p":196},{"d":"Mwanza","t":"2017-03-04","p":209},{"d":"Mwanza","t":"2017-03-06","p":204},{"d":"Mwanza","t":"2017-03-07","p":206},{"d":"Mwanza","t":"2017-03-12","p":206},{"d":"Mwanza","t":"2017-03-14","p":186},{"d":"Mwanza","t":"2017-03-15","p":181},{"d":"Mwanza","t":"2017-03-26","p":180},{"d":"Mwanza","t":"2017-03-27","p":176},{"d":"Mwanza","t":"2017-03-28","p":174},{"d":"Mwanza","t":"2017-04-01","p":174},
{"d":"Mwanza","t":"2016-11-20","v":-30},{"d":"Mwanza","t":"2016-11-21","v":-80},{"d":"Mwanza","t":"2016-11-22","v":-30},{"d":"Mwanza","t":"2016-11-30","v":-70},{"d":"Mwanza","t":"2016-12-01","v":-30},{"d":"Mwanza","t":"2016-12-16","v":-40},{"d":"Mwanza","t":"2016-12-17","v":-65},{"d":"Mwanza","t":"2016-12-18","v":-60},{"d":"Mwanza","t":"2016-12-19","v":-30},{"d":"Mwanza","t":"2017-01-01","v":-110},{"d":"Mwanza","t":"2017-01-23","v":-30},{"d":"Mwanza","t":"2017-01-25","v":-20},{"d":"Mwanza","t":"2017-03-01","v":-160},{"d":"Mwanza","t":"2017-03-09","v":-160},{"d":"Mwanza","t":"2017-03-16","v":-20},{"d":"Mwanza","t":"2017-03-21","v":-15},{"d":"Mwanza","t":"2017-03-23","v":-20},{"d":"Mwanza","t":"2016-12-05","v":50},{"d":"Mwanza","t":"2016-12-06","v":80},{"d":"Mwanza","t":"2016-12-07","v":100},{"d":"Mwanza","t":"2016-12-08","v":90},{"d":"Mwanza","t":"2017-01-17","v":40},{"d":"Mwanza","t":"2017-01-18","v":90},{"d":"Mwanza","t":"2017-01-19","v":40},{"d":"Mwanza","t":"2017-02-19","v":60},{"d":"Mwanza","t":"2017-02-20","v":65},
{"d":"Chikwawa","t":"2016-12-01","p":245},{"d":"Chikwawa","t":"2016-12-02","p":236},{"d":"Chikwawa","t":"2016-12-03","p":230},{"d":"Chikwawa","t":"2016-12-05","p":229},{"d":"Chikwawa","t":"2016-12-06","p":220},{"d":"Chikwawa","t":"2016-12-08","p":219},{"d":"Chikwawa","t":"2016-12-09","p":225},{"d":"Chikwawa","t":"2016-12-13","p":225},{"d":"Chikwawa","t":"2016-12-14","p":236},{"d":"Chikwawa","t":"2016-12-15","p":240},{"d":"Chikwawa","t":"2017-01-07","p":240},{"d":"Chikwawa","t":"2017-01-08","p":244},{"d":"Chikwawa","t":"2017-01-19","p":244},{"d":"Chikwawa","t":"2017-01-20","p":240},{"d":"Chikwawa","t":"2017-01-27","p":240},{"d":"Chikwawa","t":"2017-01-28","p":236},{"d":"Chikwawa","t":"2017-01-29","p":235},{"d":"Chikwawa","t":"2017-02-06","p":235},{"d":"Chikwawa","t":"2017-02-07","p":232},{"d":"Chikwawa","t":"2017-02-11","p":230},{"d":"Chikwawa","t":"2017-03-08","p":230},{"d":"Chikwawa","t":"2017-03-09","p":226},{"d":"Chikwawa","t":"2017-03-13","p":225},{"d":"Chikwawa","t":"2017-03-14","p":244},{"d":"Chikwawa","t":"2017-03-16","p":245},{"d":"Chikwawa","t":"2017-03-18","p":244},{"d":"Chikwawa","t":"2017-03-19","p":240},{"d":"Chikwawa","t":"2017-03-24","p":240},{"d":"Chikwawa","t":"2017-03-25","p":182},{"d":"Chikwawa","t":"2017-03-27","p":180},{"d":"Chikwawa","t":"2017-03-28","p":176},{"d":"Chikwawa","t":"2017-03-29","p":170},{"d":"Chikwawa","t":"2017-03-30","p":184},{"d":"Chikwawa","t":"2017-04-01","p":190},
{"d":"Chikwawa","t":"2016-11-06","v":-210},{"d":"Chikwawa","t":"2016-11-07","v":-220},{"d":"Chikwawa","t":"2016-11-08","v":-250},{"d":"Chikwawa","t":"2016-11-09","v":-290},{"d":"Chikwawa","t":"2016-11-10","v":-390},{"d":"Chikwawa","t":"2016-11-11","v":-380},{"d":"Chikwawa","t":"2016-11-12","v":-260},{"d":"Chikwawa","t":"2016-11-13","v":-200},{"d":"Chikwawa","t":"2016-11-14","v":-270},{"d":"Chikwawa","t":"2016-11-15","v":-300},{"d":"Chikwawa","t":"2016-11-16","v":-250},{"d":"Chikwawa","t":"2016-11-17","v":-170},{"d":"Chikwawa","t":"2016-11-18","v":-220},{"d":"Chikwawa","t":"2016-11-19","v":-210},{"d":"Chikwawa","t":"2016-12-06","v":-1000},{"d":"Chikwawa","t":"2016-12-13","v":-60},{"d":"Chikwawa","t":"2016-12-14","v":-90},{"d":"Chikwawa","t":"2016-12-15","v":-120},{"d":"Chikwawa","t":"2016-12-16","v":-180},{"d":"Chikwawa","t":"2016-12-17","v":-250},{"d":"Chikwawa","t":"2016-12-18","v":-240},{"d":"Chikwawa","t":"2016-12-19","v":-200},{"d":"Chikwawa","t":"2016-12-20","v":-330},{"d":"Chikwawa","t":"2016-12-21","v":-330},{"d":"Chikwawa","t":"2016-12-22","v":-100},{"d":"Chikwawa","t":"2017-01-06","v":-380},{"d":"Chikwawa","t":"2017-01-07","v":-290},{"d":"Chikwawa","t":"2017-01-08","v":-90},{"d":"Chikwawa","t":"2017-01-09","v":-20},{"d":"Chikwawa","t":"2017-01-11","v":-150},{"d":"Chikwawa","t":"2017-01-12","v":-30},{"d":"Chikwawa","t":"2017-01-13","v":-40},{"d":"Chikwawa","t":"2017-01-15","v":-420},{"d":"Chikwawa","t":"2017-01-16","v":-460},{"d":"Chikwawa","t":"2017-01-17","v":-470},{"d":"Chikwawa","t":"2017-01-18","v":-380},{"d":"Chikwawa","t":"2017-01-19","v":-410},{"d":"Chikwawa","t":"2017-01-20","v":-360},{"d":"Chikwawa","t":"2017-01-21","v":-390},{"d":"Chikwawa","t":"2017-01-22","v":-420},{"d":"Chikwawa","t":"2017-01-23","v":-350},{"d":"Chikwawa","t":"2017-01-24","v":-120},{"d":"Chikwawa","t":"2017-01-25","v":-230},{"d":"Chikwawa","t":"2017-01-26","v":-80},{"d":"Chikwawa","t":"2017-01-27","v":-630},{"d":"Chikwawa","t":"2017-01-28","v":-120},{"d":"Chikwawa","t":"2017-02-04","v":-290},{"d":"Chikwawa","t":"2017-02-05","v":-300},{"d":"Chikwawa","t":"2017-02-06","v":-300},{"d":"Chikwawa","t":"2017-02-07","v":-160},{"d":"Chikwawa","t":"2017-02-08","v":-790},{"d":"Chikwawa","t":"2017-02-09","v":-380},{"d":"Chikwawa","t":"2017-02-10","v":-390},{"d":"Chikwawa","t":"2017-02-11","v":-220},{"d":"Chikwawa","t":"2017-02-12","v":-260},{"d":"Chikwawa","t":"2017-02-13","v":-170},{"d":"Chikwawa","t":"2017-02-14","v":-210},{"d":"Chikwawa","t":"2017-02-15","v":-60},{"d":"Chikwawa","t":"2017-02-16","v":-230},{"d":"Chikwawa","t":"2017-02-17","v":-80},{"d":"Chikwawa","t":"2017-02-18","v":-350},{"d":"Chikwawa","t":"2017-02-19","v":-120},{"d":"Chikwawa","t":"2017-03-03","v":-1000},{"d":"Chikwawa","t":"2017-03-04","v":-60},{"d":"Chikwawa","t":"2017-03-05","v":-40},{"d":"Chikwawa","t":"2017-03-06","v":-120},{"d":"Chikwawa","t":"2017-03-07","v":-100},{"d":"Chikwawa","t":"2017-03-08","v":-150},{"d":"Chikwawa","t":"2017-03-09","v":-570},{"d":"Chikwawa","t":"2017-03-10","v":-100},{"d":"Chikwawa","t":"2017-03-12","v":-90},{"d":"Chikwawa","t":"2017-03-13","v":-340},{"d":"Chikwawa","t":"2017-03-14","v":-390},{"d":"Chikwawa","t":"2017-03-15","v":-360},{"d":"Chikwawa","t":"2017-03-16","v":-330},{"d":"Chikwawa","t":"2017-03-17","v":-380},{"d":"Chikwawa","t":"2017-03-18","v":-280},{"d":"Chikwawa","t":"2017-03-19","v":-370},{"d":"Chikwawa","t":"2017-03-20","v":-160},{"d":"Chikwawa","t":"2017-03-24","v":-120},
{"d":"Chikwawa","t":"2016-12-01","v":310},{"d":"Chikwawa","t":"2016-12-02","v":280},{"d":"Chikwawa","t":"2016-12-03","v":290},{"d":"Chikwawa","t":"2016-12-04","v":260},{"d":"Chikwawa","t":"2016-12-05","v":240},{"d":"Chikwawa","t":"2017-01-20","v":140},{"d":"Chikwawa","t":"2017-01-21","v":180},{"d":"Chikwawa","t":"2017-01-22","v":170},{"d":"Chikwawa","t":"2017-01-23","v":140},{"d":"Chikwawa","t":"2017-01-24","v":110},{"d":"Chikwawa","t":"2017-02-20","v":120},{"d":"Chikwawa","t":"2017-02-21","v":110},{"d":"Chikwawa","t":"2017-02-22","v":90},{"d":"Chikwawa","t":"2017-02-23","v":90},
{"d":"Nsanje","t":"2016-11-07","p":219},{"d":"Nsanje","t":"2016-11-08","p":194},{"d":"Nsanje","t":"2016-11-10","p":200},{"d":"Nsanje","t":"2016-11-12","p":202},{"d":"Nsanje","t":"2016-11-13","p":208},{"d":"Nsanje","t":"2016-11-14","p":200},{"d":"Nsanje","t":"2016-11-16","p":204},{"d":"Nsanje","t":"2016-11-17","p":212},{"d":"Nsanje","t":"2016-11-18","p":206},{"d":"Nsanje","t":"2016-11-19","p":200},{"d":"Nsanje","t":"2016-11-22","p":200},{"d":"Nsanje","t":"2016-11-23","p":204},{"d":"Nsanje","t":"2016-11-24","p":196},{"d":"Nsanje","t":"2016-11-25","p":208},{"d":"Nsanje","t":"2016-11-26","p":202},{"d":"Nsanje","t":"2016-11-27","p":212},{"d":"Nsanje","t":"2016-11-29","p":200},{"d":"Nsanje","t":"2016-11-30","p":198},{"d":"Nsanje","t":"2016-12-01","p":210},{"d":"Nsanje","t":"2016-12-02","p":202},{"d":"Nsanje","t":"2016-12-03","p":194},{"d":"Nsanje","t":"2016-12-05","p":210},{"d":"Nsanje","t":"2016-12-07","p":208},{"d":"Nsanje","t":"2016-12-09","p":204},{"d":"Nsanje","t":"2016-12-11","p":196},{"d":"Nsanje","t":"2016-12-13","p":206},{"d":"Nsanje","t":"2016-12-20","p":206},{"d":"Nsanje","t":"2016-12-21","p":225},{"d":"Nsanje","t":"2016-12-22","p":206},{"d":"Nsanje","t":"2016-12-24","p":208},{"d":"Nsanje","t":"2017-01-01","p":208},{"d":"Nsanje","t":"2017-01-02","p":224},{"d":"Nsanje","t":"2017-01-08","p":225},{"d":"Nsanje","t":"2017-01-09","p":241},{"d":"Nsanje","t":"2017-01-25","p":241},{"d":"Nsanje","t":"2017-01-26","p":237},{"d":"Nsanje","t":"2017-01-28","p":238},{"d":"Nsanje","t":"2017-01-30","p":242},{"d":"Nsanje","t":"2017-02-04","p":242},{"d":"Nsanje","t":"2017-02-06","p":225},{"d":"Nsanje","t":"2017-03-13","p":225},{"d":"Nsanje","t":"2017-03-14","p":241},{"d":"Nsanje","t":"2017-03-15","p":228},{"d":"Nsanje","t":"2017-03-16","p":204},{"d":"Nsanje","t":"2017-03-17","p":202},{"d":"Nsanje","t":"2017-03-18","p":178},{"d":"Nsanje","t":"2017-03-19","p":154},{"d":"Nsanje","t":"2017-03-20","p":142},{"d":"Nsanje","t":"2017-03-27","p":142},{"d":"Nsanje","t":"2017-03-28","p":122},{"d":"Nsanje","t":"2017-03-29","p":113},{"d":"Nsanje","t":"2017-04-01","p":113},
{"d":"Nsanje","t":"2016-11-06","v":-380},{"d":"Nsanje","t":"2016-11-07","v":-330},{"d":"Nsanje","t":"2016-11-08","v":-240},{"d":"Nsanje","t":"2016-11-09","v":-160},{"d":"Nsanje","t":"2016-11-10","v":-130},{"d":"Nsanje","t":"2016-11-11","v":-80},{"d":"Nsanje","t":"2016-11-12","v":-60},{"d":"Nsanje","t":"2016-11-13","v":-40},{"d":"Nsanje","t":"2016-11-16","v":-40},{"d":"Nsanje","t":"2016-11-29","v":-280},{"d":"Nsanje","t":"2016-11-30","v":-300},{"d":"Nsanje","t":"2016-12-01","v":-350},{"d":"Nsanje","t":"2016-12-02","v":-200},{"d":"Nsanje","t":"2016-12-03","v":-320},{"d":"Nsanje","t":"2016-12-04","v":-360},{"d":"Nsanje","t":"2016-12-05","v":-230},{"d":"Nsanje","t":"2016-12-06","v":-330},{"d":"Nsanje","t":"2016-12-07","v":-240},{"d":"Nsanje","t":"2016-12-08","v":-220},{"d":"Nsanje","t":"2016-12-09","v":-190},{"d":"Nsanje","t":"2016-12-10","v":-210},{"d":"Nsanje","t":"2017-01-06","v":-120},{"d":"Nsanje","t":"2017-01-07","v":-280},{"d":"Nsanje","t":"2017-01-08","v":-430},{"d":"Nsanje","t":"2017-01-09","v":-250},{"d":"Nsanje","t":"2017-01-10","v":-430},{"d":"Nsanje","t":"2017-01-11","v":-190},{"d":"Nsanje","t":"2017-01-12","v":-90},{"d":"Nsanje","t":"2017-01-13","v":-60},{"d":"Nsanje","t":"2017-01-14","v":-30},{"d":"Nsanje","t":"2017-01-15","v":-20},{"d":"Nsanje","t":"2017-02-02","v":-140},{"d":"Nsanje","t":"2017-02-03","v":-340},{"d":"Nsanje","t":"2017-02-04","v":-250},{"d":"Nsanje","t":"2017-02-05","v":-150},{"d":"Nsanje","t":"2017-02-06","v":-250},{"d":"Nsanje","t":"2017-02-07","v":-380},{"d":"Nsanje","t":"2017-02-08","v":-300},{"d":"Nsanje","t":"2017-02-09","v":-220},{"d":"Nsanje","t":"2017-02-10","v":-100},{"d":"Nsanje","t":"2017-02-16","v":-70},{"d":"Nsanje","t":"2017-03-03","v":-330},{"d":"Nsanje","t":"2017-03-04","v":-440},{"d":"Nsanje","t":"2017-03-05","v":-280},{"d":"Nsanje","t":"2017-03-06","v":-250},{"d":"Nsanje","t":"2017-03-07","v":-170},{"d":"Nsanje","t":"2017-03-08","v":-240},{"d":"Nsanje","t":"2017-03-09","v":-150},{"d":"Nsanje","t":"2017-03-10","v":-40},{"d":"Nsanje","t":"2016-12-14","v":60},{"d":"Nsanje","t":"2016-12-15","v":100},{"d":"Nsanje","t":"2017-01-12","v":110},{"d":"Nsanje","t":"2017-01-13","v":80},{"d":"Nsanje","t":"2017-03-22","v":60},{"d":"Nsanje","t":"2017-03-23","v":50}
]},
"concat": [
 {"title": "Mzimba", "width": 240, "height": 237, "data": {"name": "m"}, "transform": [{"filter": {"field": "d", "equal": "Mzimba"}}],
  "encoding": {"x": {"field": "t", "type": "temporal", "scale": {"type": "utc", "domain": [{"year":2016,"month":10,"date":22,"utc":true},{"year":2017,"month":4,"date":11,"hours":18,"utc":true}]}, "axis": {"title": null, "format": "%b %Y", "grid": false, "labelAngle": 270, "labelFontSize": 19.5, "tickSize": 8, "labelPadding": 3, "values": [{"year":2016,"month":11,"date":1,"utc":true},{"year":2016,"month":12,"date":1,"utc":true},{"year":2017,"month":1,"date":1,"utc":true},{"year":2017,"month":2,"date":1,"utc":true},{"year":2017,"month":3,"date":1,"utc":true},{"year":2017,"month":4,"date":1,"utc":true}]}}},
  "layer": [
   {"transform": [{"filter": "isValid(datum.v)"}], "mark": "bar", "encoding": {"y": {"field": "v", "type": "quantitative", "stack": null, "scale": {"domain": [-1136, 1144], "nice": false, "zero": false}, "axis": null}, "color": {"condition": {"test": "datum.v < 0", "value": "#b5636c"}, "value": "#8da772"}}},
   {"transform": [{"filter": "isValid(datum.p)"}], "mark": "line", "encoding": {"y": {"field": "p", "type": "quantitative", "scale": {"domain": [-17, 268], "nice": false, "zero": false}, "axis": {"orient": "left", "values": [0,50,100,150,200,250], "format": "d", "labelAngle": 270, "labelFontSize": 15.5, "tickSize": 6, "labelPadding": 6, "gridOpacity": {"condition": {"test": "datum.value === 0", "value": 0}, "value": 1}, "title": "Retail maize price (MK/kg) [blue line]", "titleAngle": 270, "titleX": -72, "titleY": 364, "titleAlign": "center", "titleBaseline": "middle", "titleFontSize": 29.5}}}}
  ], "resolve": {"scale": {"y": "independent"}}},
 {"title": "Mchinji", "width": 279, "height": 237, "data": {"name": "m"}, "transform": [{"filter": {"field": "d", "equal": "Mchinji"}}],
  "encoding": {"x": {"field": "t", "type": "temporal", "scale": {"type": "utc", "domain": [{"year":2016,"month":10,"date":23,"hours":12,"utc":true},{"year":2017,"month":4,"date":10,"utc":true}]}, "axis": {"title": null, "format": "%b %Y", "grid": false, "labelAngle": 270, "labelFontSize": 19.5, "tickSize": 8, "labelPadding": 3, "values": [{"year":2016,"month":11,"date":1,"utc":true},{"year":2016,"month":12,"date":1,"utc":true},{"year":2017,"month":1,"date":1,"utc":true},{"year":2017,"month":2,"date":1,"utc":true},{"year":2017,"month":3,"date":1,"utc":true},{"year":2017,"month":4,"date":1,"utc":true}]}}},
  "layer": [
   {"transform": [{"filter": "isValid(datum.v)"}], "mark": "bar", "encoding": {"y": {"field": "v", "type": "quantitative", "stack": null, "scale": {"domain": [-1136, 1144], "nice": false, "zero": false}, "axis": null}, "color": {"condition": {"test": "datum.v < 0", "value": "#b5636c"}, "value": "#8da772"}}},
   {"transform": [{"filter": "isValid(datum.p)"}], "mark": "line", "encoding": {"y": {"field": "p", "type": "quantitative", "scale": {"domain": [-17, 268], "nice": false, "zero": false}, "axis": {"orient": "left", "values": [0,50,100,150,200,250], "labels": false, "ticks": false, "domain": false, "title": null, "gridOpacity": {"condition": {"test": "datum.value === 0", "value": 0}, "value": 1}}}}}
  ], "resolve": {"scale": {"y": "independent"}}},
 {"title": "Lilongwe", "width": 280, "height": 237, "data": {"name": "m"}, "transform": [{"filter": {"field": "d", "equal": "Lilongwe"}}],
  "encoding": {"x": {"field": "t", "type": "temporal", "scale": {"type": "utc", "domain": [{"year":2016,"month":10,"date":23,"hours":12,"utc":true},{"year":2017,"month":4,"date":10,"utc":true}]}, "axis": {"title": null, "format": "%b %Y", "grid": false, "labelAngle": 270, "labelFontSize": 19.5, "tickSize": 8, "labelPadding": 3, "values": [{"year":2016,"month":11,"date":1,"utc":true},{"year":2016,"month":12,"date":1,"utc":true},{"year":2017,"month":1,"date":1,"utc":true},{"year":2017,"month":2,"date":1,"utc":true},{"year":2017,"month":3,"date":1,"utc":true},{"year":2017,"month":4,"date":1,"utc":true}]}}},
  "layer": [
   {"transform": [{"filter": "isValid(datum.v)"}], "mark": "bar", "encoding": {"y": {"field": "v", "type": "quantitative", "stack": null, "scale": {"domain": [-1136, 1144], "nice": false, "zero": false}, "axis": null}, "color": {"condition": {"test": "datum.v < 0", "value": "#b5636c"}, "value": "#8da772"}}},
   {"transform": [{"filter": "isValid(datum.p)"}], "mark": "line", "encoding": {"y": {"field": "p", "type": "quantitative", "scale": {"domain": [-17, 268], "nice": false, "zero": false}, "axis": {"orient": "left", "values": [0,50,100,150,200,250], "labels": false, "ticks": false, "domain": false, "title": null, "gridOpacity": {"condition": {"test": "datum.value === 0", "value": 0}, "value": 1}}}}}
  ], "resolve": {"scale": {"y": "independent"}}},
 {"title": "Dedza", "width": 240, "height": 237, "data": {"name": "m"}, "transform": [{"filter": {"field": "d", "equal": "Dedza"}}],
  "encoding": {"x": {"field": "t", "type": "temporal", "scale": {"type": "utc", "domain": [{"year":2016,"month":10,"date":22,"utc":true},{"year":2017,"month":4,"date":11,"hours":18,"utc":true}]}, "axis": {"title": null, "format": "%b %Y", "grid": false, "labelAngle": 270, "labelFontSize": 19.5, "tickSize": 8, "labelPadding": 3, "values": [{"year":2016,"month":11,"date":1,"utc":true},{"year":2016,"month":12,"date":1,"utc":true},{"year":2017,"month":1,"date":1,"utc":true},{"year":2017,"month":2,"date":1,"utc":true},{"year":2017,"month":3,"date":1,"utc":true},{"year":2017,"month":4,"date":1,"utc":true}]}}},
  "layer": [
   {"transform": [{"filter": "isValid(datum.v)"}], "mark": "bar", "encoding": {"y": {"field": "v", "type": "quantitative", "stack": null, "scale": {"domain": [-1136, 1144], "nice": false, "zero": false}, "axis": {"orient": "right", "values": [-1000,-500,0,500,1000], "format": "d", "labelAngle": 270, "labelFontSize": 14.5, "tickSize": 6, "labelPadding": 6, "grid": false, "title": "Food (MT) [red] and cash (MT equiv) [green]", "titleAngle": 90, "titleX": 66, "titleY": 359, "titleAlign": "center", "titleBaseline": "middle", "titleFontSize": 27}}, "color": {"condition": {"test": "datum.v < 0", "value": "#b5636c"}, "value": "#8da772"}}},
   {"transform": [{"filter": "isValid(datum.p)"}], "mark": "line", "encoding": {"y": {"field": "p", "type": "quantitative", "scale": {"domain": [-17, 268], "nice": false, "zero": false}, "axis": {"orient": "left", "values": [0,50,100,150,200,250], "labels": false, "ticks": false, "domain": false, "title": null, "gridOpacity": {"condition": {"test": "datum.value === 0", "value": 0}, "value": 1}}}}}
  ], "resolve": {"scale": {"y": "independent"}}},
 {"title": "Blantyre", "width": 240, "height": 236, "data": {"name": "m"}, "transform": [{"filter": {"field": "d", "equal": "Blantyre"}}],
  "encoding": {"x": {"field": "t", "type": "temporal", "scale": {"type": "utc", "domain": [{"year":2016,"month":10,"date":22,"utc":true},{"year":2017,"month":4,"date":11,"hours":18,"utc":true}]}, "axis": {"title": null, "format": "%b %Y", "grid": false, "labelAngle": 270, "labelFontSize": 19.5, "tickSize": 8, "labelPadding": 3, "values": [{"year":2016,"month":11,"date":1,"utc":true},{"year":2016,"month":12,"date":1,"utc":true},{"year":2017,"month":1,"date":1,"utc":true},{"year":2017,"month":2,"date":1,"utc":true},{"year":2017,"month":3,"date":1,"utc":true},{"year":2017,"month":4,"date":1,"utc":true}]}}},
  "layer": [
   {"transform": [{"filter": "isValid(datum.v)"}], "mark": "bar", "encoding": {"y": {"field": "v", "type": "quantitative", "stack": null, "scale": {"domain": [-1136, 1144], "nice": false, "zero": false}, "axis": null}, "color": {"condition": {"test": "datum.v < 0", "value": "#b5636c"}, "value": "#8da772"}}},
   {"transform": [{"filter": "isValid(datum.p)"}], "mark": "line", "encoding": {"y": {"field": "p", "type": "quantitative", "scale": {"domain": [-17, 268], "nice": false, "zero": false}, "axis": {"orient": "left", "values": [0,50,100,150,200,250], "format": "d", "labelAngle": 270, "labelFontSize": 15.5, "tickSize": 6, "labelPadding": 6, "gridOpacity": {"condition": {"test": "datum.value === 0", "value": 0}, "value": 1}, "title": null}}}}
  ], "resolve": {"scale": {"y": "independent"}}},
 {"title": "Mwanza", "width": 279, "height": 236, "data": {"name": "m"}, "transform": [{"filter": {"field": "d", "equal": "Mwanza"}}],
  "encoding": {"x": {"field": "t", "type": "temporal", "scale": {"type": "utc", "domain": [{"year":2016,"month":10,"date":23,"hours":12,"utc":true},{"year":2017,"month":4,"date":10,"utc":true}]}, "axis": {"title": null, "format": "%b %Y", "grid": false, "labelAngle": 270, "labelFontSize": 19.5, "tickSize": 8, "labelPadding": 3, "values": [{"year":2016,"month":11,"date":1,"utc":true},{"year":2016,"month":12,"date":1,"utc":true},{"year":2017,"month":1,"date":1,"utc":true},{"year":2017,"month":2,"date":1,"utc":true},{"year":2017,"month":3,"date":1,"utc":true},{"year":2017,"month":4,"date":1,"utc":true}]}}},
  "layer": [
   {"transform": [{"filter": "isValid(datum.v)"}], "mark": "bar", "encoding": {"y": {"field": "v", "type": "quantitative", "stack": null, "scale": {"domain": [-1136, 1144], "nice": false, "zero": false}, "axis": null}, "color": {"condition": {"test": "datum.v < 0", "value": "#b5636c"}, "value": "#8da772"}}},
   {"transform": [{"filter": "isValid(datum.p)"}], "mark": "line", "encoding": {"y": {"field": "p", "type": "quantitative", "scale": {"domain": [-17, 268], "nice": false, "zero": false}, "axis": {"orient": "left", "values": [0,50,100,150,200,250], "labels": false, "ticks": false, "domain": false, "title": null, "gridOpacity": {"condition": {"test": "datum.value === 0", "value": 0}, "value": 1}}}}}
  ], "resolve": {"scale": {"y": "independent"}}},
 {"title": "Chikwawa", "width": 280, "height": 236, "data": {"name": "m"}, "transform": [{"filter": {"field": "d", "equal": "Chikwawa"}}],
  "encoding": {"x": {"field": "t", "type": "temporal", "scale": {"type": "utc", "domain": [{"year":2016,"month":10,"date":23,"hours":12,"utc":true},{"year":2017,"month":4,"date":10,"utc":true}]}, "axis": {"title": null, "format": "%b %Y", "grid": false, "labelAngle": 270, "labelFontSize": 19.5, "tickSize": 8, "labelPadding": 3, "values": [{"year":2016,"month":11,"date":1,"utc":true},{"year":2016,"month":12,"date":1,"utc":true},{"year":2017,"month":1,"date":1,"utc":true},{"year":2017,"month":2,"date":1,"utc":true},{"year":2017,"month":3,"date":1,"utc":true},{"year":2017,"month":4,"date":1,"utc":true}]}}},
  "layer": [
   {"transform": [{"filter": "isValid(datum.v)"}], "mark": "bar", "encoding": {"y": {"field": "v", "type": "quantitative", "stack": null, "scale": {"domain": [-1136, 1144], "nice": false, "zero": false}, "axis": null}, "color": {"condition": {"test": "datum.v < 0", "value": "#b5636c"}, "value": "#8da772"}}},
   {"transform": [{"filter": "isValid(datum.p)"}], "mark": "line", "encoding": {"y": {"field": "p", "type": "quantitative", "scale": {"domain": [-17, 268], "nice": false, "zero": false}, "axis": {"orient": "left", "values": [0,50,100,150,200,250], "labels": false, "ticks": false, "domain": false, "title": null, "gridOpacity": {"condition": {"test": "datum.value === 0", "value": 0}, "value": 1}}}}}
  ], "resolve": {"scale": {"y": "independent"}}},
 {"title": "Nsanje", "width": 240, "height": 236, "data": {"name": "m"}, "transform": [{"filter": {"field": "d", "equal": "Nsanje"}}],
  "encoding": {"x": {"field": "t", "type": "temporal", "scale": {"type": "utc", "domain": [{"year":2016,"month":10,"date":22,"utc":true},{"year":2017,"month":4,"date":11,"hours":18,"utc":true}]}, "axis": {"title": null, "format": "%b %Y", "grid": false, "labelAngle": 270, "labelFontSize": 19.5, "tickSize": 8, "labelPadding": 3, "values": [{"year":2016,"month":11,"date":1,"utc":true},{"year":2016,"month":12,"date":1,"utc":true},{"year":2017,"month":1,"date":1,"utc":true},{"year":2017,"month":2,"date":1,"utc":true},{"year":2017,"month":3,"date":1,"utc":true},{"year":2017,"month":4,"date":1,"utc":true}]}}},
  "layer": [
   {"transform": [{"filter": "isValid(datum.v)"}], "mark": "bar", "encoding": {"y": {"field": "v", "type": "quantitative", "stack": null, "scale": {"domain": [-1136, 1144], "nice": false, "zero": false}, "axis": {"orient": "right", "values": [-1000,-500,0,500,1000], "format": "d", "labelAngle": 270, "labelFontSize": 14.5, "tickSize": 6, "labelPadding": 6, "grid": true, "gridOpacity": {"condition": {"test": "datum.value === -1000", "value": 0}, "value": 1}, "title": null}}, "color": {"condition": {"test": "datum.v < 0", "value": "#b5636c"}, "value": "#8da772"}}},
   {"transform": [{"filter": "isValid(datum.p)"}], "mark": "line", "encoding": {"y": {"field": "p", "type": "quantitative", "scale": {"domain": [-17, 268], "nice": false, "zero": false}, "axis": null}}}
  ], "resolve": {"scale": {"y": "independent"}}}
]
}
